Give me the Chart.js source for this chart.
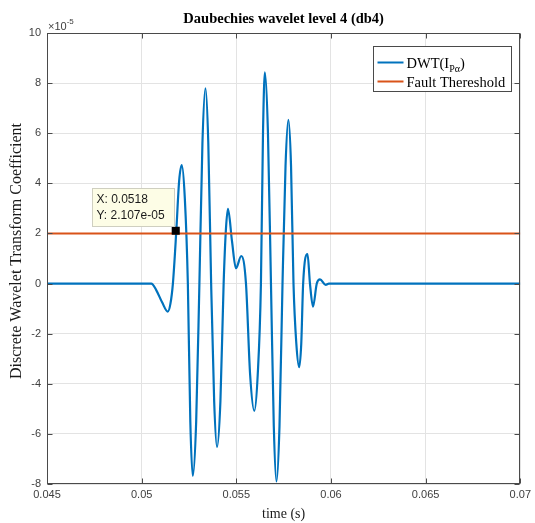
<!DOCTYPE html>
<html>
<head>
<meta charset="utf-8">
<script src="https://cdn.jsdelivr.net/npm/chart.js@4.4.0/dist/chart.umd.min.js"></script>
<style>
  html, body { margin: 0; padding: 0; background: #fff; }
</style>
</head>
<body>
<canvas id="dwtChart" width="535" height="523"></canvas>
<script>
// values, y in units of 1e-5
const time_s = [0.045, 0.05051, 0.05077, 0.05108, 0.05138, 0.05152, 0.05165, 0.05183, 0.05198, 0.05212,
  0.05228, 0.05244, 0.05257, 0.05270, 0.05288, 0.05305, 0.05321, 0.05337, 0.05352, 0.05367,
  0.05383, 0.05398, 0.05416, 0.05433, 0.05445, 0.05456, 0.05477, 0.05498, 0.05526, 0.05551,
  0.05573, 0.05595, 0.05613, 0.05630, 0.05641, 0.05651, 0.05667, 0.05683, 0.05698, 0.05712,
  0.05728, 0.05744, 0.05760, 0.05775, 0.05789, 0.05802, 0.05817, 0.05832, 0.05843, 0.05853,
  0.05876, 0.05889, 0.05905, 0.05925, 0.05942, 0.05972, 0.05989, 0.07];
const dwt_coef = [0, 0, -0.26, -0.75, -1.12, -0.8, 0, 2.10, 4.1, 4.73,
  3.4, 0, -5.5, -7.68, -5.5, 0, 5.6, 7.79, 5.6, 0,
  -4.7, -6.53, -4.7, 0, 2.15, 2.98, 1.7, 0.61, 1.10, 0,
  -3.65, -5.08, -3.65, 0, 6.05, 8.43, 6.05, 0, -5.7, -7.90,
  -5.7, 0, 4.7, 6.53, 4.7, 0, -2.4, -3.34, -2.4, 0,
  1.18, 0, -0.92, 0, 0.17, -0.05, 0, 0];
const threshold_time = [0.045, 0.07];
const threshold_level = [2, 2];

const x_ticks = [0.045, 0.05, 0.055, 0.06, 0.065, 0.07];
const x_tick_labels = ["0.045", "0.05", "0.055", "0.06", "0.065", "0.07"];
const y_ticks = [-8, -6, -4, -2, 0, 2, 4, 6, 8, 10];
const y_tick_labels = ["-8", "-6", "-4", "-2", "0", "2", "4", "6", "8", "10"];

const tip_x = 0.0518;
const tip_y = 2.107;
const tip_lines = ["X: 0.0518", "Y: 2.107e-05"];

const legend_parts = [["DWT(I", "P\u03B1", ")"], ["Fault Thereshold"]];
const series_colors = ["#0072BD", "#D95319"];
const chart_title = "Daubechies wavelet level 4 (db4)";
const y_title = "Discrete Wavelet Transform Coefficient";

const serif = "'Liberation Serif', 'Times New Roman', serif";
const sans = "'Liberation Sans', Arial, sans-serif";

const matlab_style = {
  id: "matlab_style",
  afterDatasetsDraw(chart) {
    const ctx = chart.ctx;
    const a = chart.chartArea;
    const xs = chart.scales.x, ys = chart.scales.y;
    ctx.save();

    // axes box
    ctx.strokeStyle = "#4a4a4a";
    ctx.lineWidth = 1;
    const L = Math.round(a.left) + 0.5, R = Math.round(a.right) - 0.5;
    const T = Math.round(a.top) + 0.5, B = Math.round(a.bottom) - 0.5;
    ctx.strokeRect(L, T, R - L, B - T);

    // inward ticks
    ctx.beginPath();
    x_ticks.forEach(v => {
      const px = Math.round(xs.getPixelForValue(v)) + 0.5;
      ctx.moveTo(px, B); ctx.lineTo(px, B - 5);
      ctx.moveTo(px, T); ctx.lineTo(px, T + 5);
    });
    y_ticks.forEach(v => {
      const py = Math.round(ys.getPixelForValue(v)) + 0.5;
      ctx.moveTo(L, py); ctx.lineTo(L + 5, py);
      ctx.moveTo(R, py); ctx.lineTo(R - 5, py);
    });
    ctx.stroke();

    // data tip box
    const mx = xs.getPixelForValue(tip_x), my = ys.getPixelForValue(tip_y);
    const bw = 82, bh = 38;
    const bx = Math.round(mx - 2 - bw) + 0.5, by = Math.round(my - 5 - bh) + 0.5;
    ctx.fillStyle = "#fdfde6";
    ctx.strokeStyle = "#cfcfc0";
    ctx.fillRect(bx, by, bw, bh);
    ctx.strokeRect(bx, by, bw, bh);
    ctx.fillStyle = "#1a1a1a";
    ctx.font = "12px " + sans;
    ctx.textBaseline = "middle";
    ctx.textAlign = "left";
    ctx.fillText(tip_lines[0], bx + 4, by + 11);
    ctx.fillText(tip_lines[1], bx + 4, by + 27);

    // legend
    const lx = 373.5, ly = 46.5, lw = 138, lh = 45;
    ctx.fillStyle = "#fff";
    ctx.fillRect(lx, ly, lw, lh);
    ctx.strokeStyle = "#4a4a4a";
    ctx.strokeRect(lx, ly, lw, lh);
    const rows = [ly + 16, ly + 35];
    legend_parts.forEach((parts, i) => {
      const ry = rows[i];
      ctx.strokeStyle = series_colors[i];
      ctx.lineWidth = 2;
      ctx.beginPath();
      ctx.moveTo(lx + 4, ry); ctx.lineTo(lx + 30, ry);
      ctx.stroke();
      ctx.fillStyle = "#000";
      ctx.textBaseline = "alphabetic";
      let tx = lx + 33;
      parts.forEach((p, j) => {
        const sub = parts.length > 1 && j === 1;
        ctx.font = (sub ? "10px " : "14.5px ") + serif;
        ctx.fillText(p, tx, ry + 5 + (sub ? 4 : 0));
        tx += ctx.measureText(p).width;
      });
    });

    // title
    ctx.fillStyle = "#000";
    ctx.font = "bold 14.5px " + serif;
    ctx.textAlign = "center";
    ctx.textBaseline = "middle";
    ctx.fillText(chart_title, (a.left + a.right) / 2, 19);

    // y axis title
    ctx.save();
    ctx.translate(17, 251);
    ctx.rotate(-Math.PI / 2);
    ctx.fillStyle = "#1a1a1a";
    ctx.font = "16px " + serif;
    ctx.fillText(y_title, 0, 0);
    ctx.restore();

    // exponent label
    ctx.fillStyle = "#404040";
    ctx.textAlign = "left";
    ctx.textBaseline = "alphabetic";
    ctx.font = "11px " + sans;
    ctx.fillText("\u00D710", a.left + 1, 30);
    const ew = ctx.measureText("\u00D710").width;
    ctx.font = "8px " + sans;
    ctx.fillText("-5", a.left + 1 + ew, 24);

    ctx.restore();
  }
};

const dwt_chart = new Chart("dwtChart", {
  type: "line",
  data: {
    datasets: [
      {
        label: "tip",
        data: [{ x: tip_x, y: tip_y }],
        showLine: false,
        pointStyle: "rect",
        pointRadius: 5.7,
        pointBorderWidth: 0,
        pointBackgroundColor: "#000",
        borderColor: "#000",
      },
      {
        label: "Fault Thereshold",
        data: threshold_time.map((t, i) => ({ x: t, y: threshold_level[i] })),
        borderColor: series_colors[1],
        borderWidth: 2,
        pointRadius: 0,
      },
      {
        label: "DWT",
        data: time_s.map((t, i) => ({ x: t, y: dwt_coef[i] })),
        borderColor: series_colors[0],
        borderWidth: 2.2,
        pointRadius: 0,
        cubicInterpolationMode: "monotone",
      },
    ],
  },
  options: {
    responsive: false,
    animation: false,
    layout: { padding: { top: 33, right: 13, left: 0, bottom: 0 } },
    plugins: {
      legend: { display: false },
      tooltip: { enabled: false },
      title: { display: false },
    },
    scales: {
      x: {
        type: "linear",
        min: 0.045,
        max: 0.07,
        afterFit(scale) { scale.height = 39; },
        afterBuildTicks(scale) { scale.ticks = x_ticks.map(v => ({ value: v })); },
        grid: { color: "#e3e3e3", drawTicks: false },
        border: { display: false },
        ticks: {
          padding: 4,
          color: "#404040",
          font: { family: sans, size: 11 },
          maxRotation: 0,
          callback: (v) => x_tick_labels[x_ticks.findIndex(t => Math.abs(t - v) < 1e-9)],
        },
        title: {
          display: true,
          text: "time (s)",
          color: "#1a1a1a",
          font: { family: serif, size: 14 },
          padding: { top: 0, bottom: 0 },
        },
      },
      y: {
        type: "linear",
        min: -8,
        max: 10,
        afterFit(scale) { scale.width = 47; },
        afterBuildTicks(scale) { scale.ticks = y_ticks.map(v => ({ value: v })); },
        grid: { color: "#e3e3e3", drawTicks: false },
        border: { display: false },
        ticks: {
          padding: 6,
          color: "#404040",
          font: { family: sans, size: 11 },
          callback: (v) => y_tick_labels[y_ticks.indexOf(v)],
        },
      },
    },
  },
  plugins: [matlab_style],
});
</script>
</body>
</html>
